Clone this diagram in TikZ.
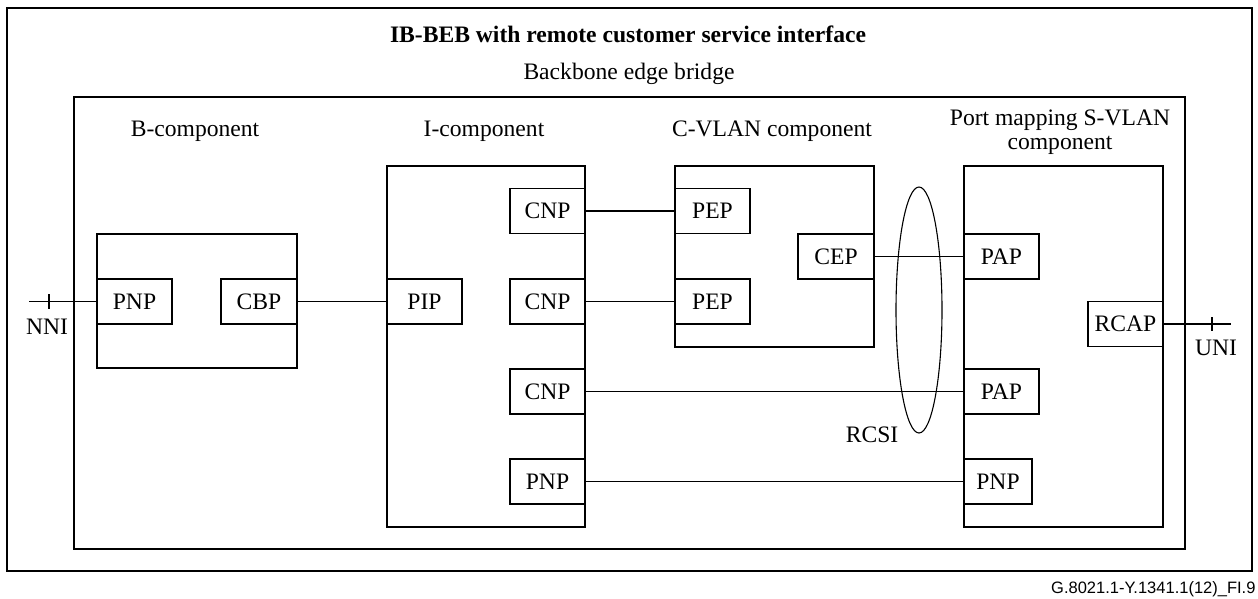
\documentclass[tikz,border=0pt]{standalone}
\usepackage{fontspec}
\usetikzlibrary{shapes.geometric}
\setmainfont{Liberation Serif}
\newfontfamily\arialfont{Liberation Sans}
\begin{document}
\begin{tikzpicture}[x=1pt,y=-1pt,line width=1.1pt,
  every node/.style={font=\fontsize{23.6}{26}\selectfont},
  frame/.style={draw,inner sep=0pt},
  port/.style={draw,fill=white,inner sep=0pt,minimum height=45pt},
  lbl/.style={inner sep=0pt}]
\useasboundingbox (0,0) rectangle (1258,598);
% frames
\draw (7,8) rectangle (1252,571);
\node[frame,minimum width=1111pt,minimum height=452pt] (bridge) at (629.5,323) {};
\node[frame,minimum width=200pt,minimum height=134pt] (bcomp) at (197,301) {};
\node[frame,minimum width=198pt,minimum height=361pt] (icomp) at (486,346.5) {};
\node[frame,minimum width=199pt,minimum height=181pt] (ccomp) at (774.5,256.5) {};
\node[frame,minimum width=199pt,minimum height=361pt] (pcomp) at (1063.5,346.5) {};
% titles
\node[lbl,font=\fontsize{23.6}{26}\selectfont\bfseries] (title) at (628,34) {IB-BEB with remote customer service interface};
\node[lbl] (bebl) at (629,74) {Backbone edge bridge};
\node[lbl] (bl) at (195,131) {B-component};
\node[lbl] (il) at (484,131) {I-component};
\node[lbl] (cl) at (772,131) {C-VLAN component};
\node[lbl,align=center,font=\fontsize{23.6}{23.5}\selectfont] (pl) at (1060,132) {Port mapping S-VLAN\\component};
% ports
\node[port,minimum width=75pt] (pnpb) at (134.5,301.5) {PNP};
\node[port,minimum width=76pt] (cbp) at (259,301.5) {CBP};
\node[port,minimum width=75pt] (pip) at (424.5,301.5) {PIP};
\node[port,minimum width=75pt] (cnp1) at (547.5,211) {CNP};
\node[port,minimum width=75pt] (cnp2) at (547.5,301.5) {CNP};
\node[port,minimum width=75pt] (cnp3) at (547.5,391.5) {CNP};
\node[port,minimum width=75pt] (pnpi) at (547.5,481.5) {PNP};
\node[port,minimum width=75pt] (pep1) at (712.5,211) {PEP};
\node[port,minimum width=75pt] (pep2) at (712.5,301.5) {PEP};
\node[port,minimum width=76pt] (cep) at (836,256.5) {CEP};
\node[port,minimum width=75pt] (pap1) at (1001.5,256.5) {PAP};
\node[port,minimum width=75pt] (pap2) at (1001.5,391.5) {PAP};
\node[port,minimum width=68pt] (pnpp) at (998,481.5) {PNP};
\node[port,minimum width=75pt] (rcap) at (1125.5,324) {RCAP};
% connectors
\coordinate (nniend) at (29,301.5);
\coordinate (uniend) at (1231,324);
\draw (nniend) -- (pnpb.west);
\draw (49,294) -- (49,309);
\node[lbl] (nni) at (47,327) {NNI};
\draw (cbp.east) -- (pip.west);
\draw (cnp1.east) -- (pep1.west);
\draw (cnp2.east) -- (pep2.west);
\draw (cep.east) -- (pap1.west);
\draw (cnp3.east) -- (pap2.west);
\draw (pnpi.east) -- (pnpp.west);
\draw (rcap.east) -- (uniend);
\draw (1212,317) -- (1212,331);
\node[lbl] (uni) at (1216,348) {UNI};
% RCSI
\node[draw,ellipse,minimum width=46pt,minimum height=246pt,inner sep=0pt] (rcsi) at (919,310) {};
\node[lbl] (rcsil) at (872,435) {RCSI};
% figure id
\node[lbl,anchor=east,font=\arialfont\fontsize{16.5}{18}\selectfont] (fig) at (1256,589) {G.8021.1-Y.1341.1(12)\_FI.9};
\end{tikzpicture}
\end{document}
